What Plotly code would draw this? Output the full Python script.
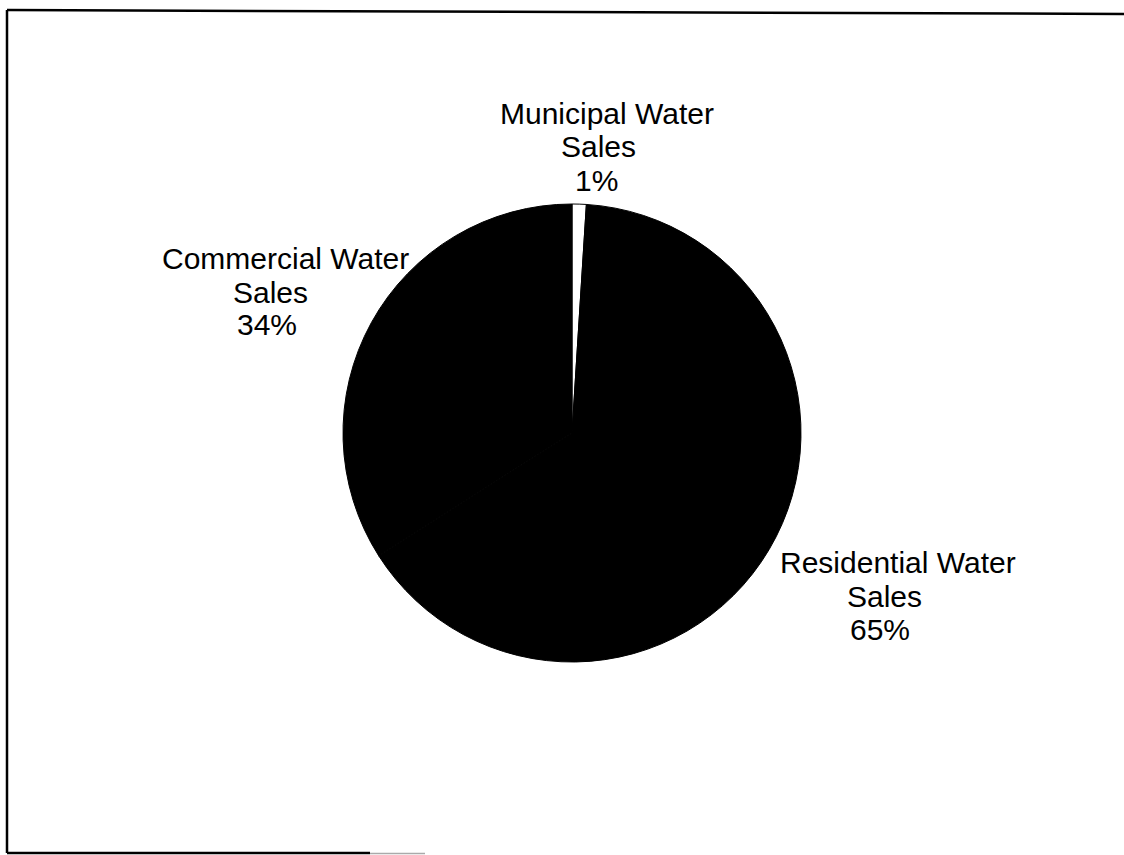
import plotly.graph_objects as go

# Data
categories = ["Municipal Water Sales", "Residential Water Sales", "Commercial Water Sales"]
shares = [1, 65, 34]
slice_colors = ["#ffffff", "#000000", "#000000"]

W, H = 1124, 855

def label_lines(name, v):
    head, tail = name.rsplit(" ", 1)
    return [head, tail, f"{v}%"]

fig = go.Figure()
cx, cy, r = 572, 433, 229
fig.add_trace(go.Pie(
    labels=categories,
    values=shares,
    sort=False,
    direction="clockwise",
    rotation=0,
    marker=dict(colors=slice_colors, line=dict(color="#000000", width=1)),
    textinfo="none",
    hoverinfo="skip",
    showlegend=False,
    domain=dict(x=[(cx - r) / W, (cx + r) / W], y=[1 - (cy + r) / H, 1 - (cy - r) / H]),
))

# label line centres (pixels) for each category: three lines each
label_pos = [
    [(607, 114), (598, 146), (596, 180)],
    [(898, 562), (884, 596), (880, 629)],
    [(285, 258), (270, 292), (267, 325)],
]
for name, v, pos in zip(categories, shares, label_pos):
    for txt, (px, py) in zip(label_lines(name, v), pos):
        fig.add_annotation(
            x=px / W, y=1 - py / H, xref="paper", yref="paper",
            text=txt, showarrow=False, align="center",
            xanchor="center", yanchor="middle",
            font=dict(family="Liberation Sans, Arial, sans-serif", size=30, color="#000000"),
        )

def seg(x0, y0, x1, y1, color="#000000", w=2.5):
    fig.add_shape(type="line", xref="paper", yref="paper",
                  x0=x0 / W, y0=1 - y0 / H, x1=x1 / W, y1=1 - y1 / H,
                  line=dict(color=color, width=w))

seg(7, 10, 1130, 14)
seg(7, 10, 7, 853)
seg(7, 853, 370, 853)
seg(370, 853.5, 425, 853.5, color="#aaaaaa", w=1.5)

fig.update_layout(
    width=W, height=H,
    margin=dict(l=0, r=0, t=0, b=0),
    paper_bgcolor="#ffffff",
    plot_bgcolor="#ffffff",
)

fig.write_html(
    "out.html",
    config={"displayModeBar": False},
    post_script="document.body.style.margin='0';document.body.style.overflow='hidden';",
)
